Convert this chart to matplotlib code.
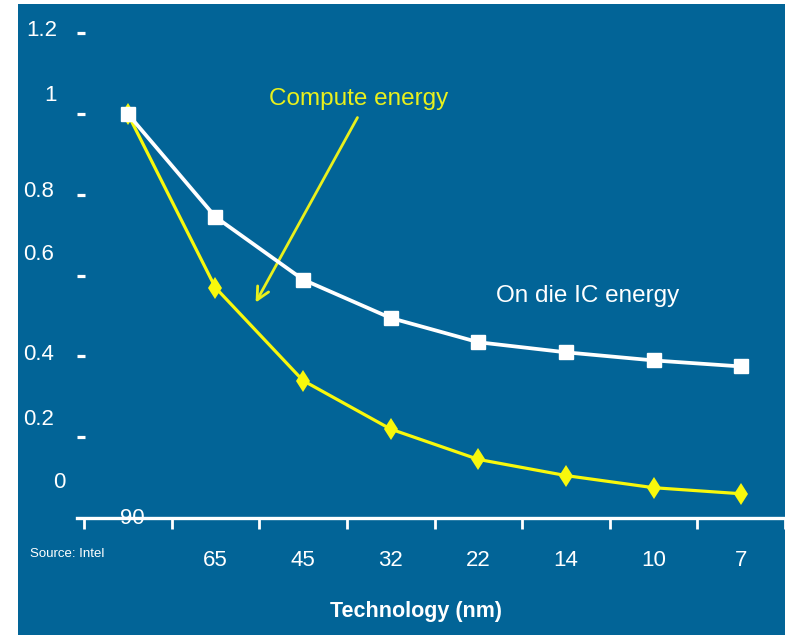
import matplotlib
matplotlib.use("Agg")
import matplotlib.pyplot as plt
import matplotlib.transforms as mtransforms
from matplotlib.patches import Rectangle

# Technology nodes (nm) and normalised energy per node
nodes = ["90", "65", "45", "32", "22", "14", "10", "7"]
ic_energy = [1.0, 0.745, 0.59, 0.495, 0.435, 0.41, 0.39, 0.375]
compute_energy = [1.0, 0.57, 0.34, 0.22, 0.145, 0.105, 0.075, 0.06]
y_ticks = [0.2, 0.4, 0.6, 0.8, 1.0, 1.2]
y_labels = ["0.2", "0.4", "0.6", "0.8", "1", "1.2"]

BLUE = "#026497"
YELLOW = "#f8f80c"
TEXT_YELLOW = "#e9f01c"
FONT = ["Liberation Sans", "DejaVu Sans"]

plt.rcParams["font.family"] = FONT

W, H = 785, 635
fig = plt.figure(figsize=(W / 100, H / 100), dpi=100, facecolor="white")

# slide background panel
fig.patches.append(Rectangle((18 / W, 0), 1 - 18 / W, 1 - 4 / H,
                             transform=fig.transFigure, facecolor=BLUE,
                             edgecolor="none", zorder=-5))

ax = fig.add_axes([77 / W, 117 / H, (W - 77) / W, (518 - 4) / H])
ax.set_facecolor("none")
ax.set_zorder(2)

x = list(range(len(nodes)))
ax.plot(x, compute_energy, color=YELLOW, lw=2.3, marker="d", ms=11.5, mew=0,
        mfc=YELLOW, zorder=3)
ax.plot(x, ic_energy, color="white", lw=2.7, marker="s", ms=10.5,
        mec="white", mfc="white", zorder=4)

ax.set_xlim(-0.58, 7.466)
ax.set_ylim(0, 1.272)

for s in ["left", "right", "top"]:
    ax.spines[s].set_visible(False)
ax.spines["bottom"].set_color("white")
ax.spines["bottom"].set_linewidth(2.4)

# y axis: short dashes with offset labels
ax.set_yticks(y_ticks)
ax.set_yticklabels([""] * len(y_ticks))
ax.tick_params(axis="y", direction="in", length=5.8, width=2.3, color="white")
label_shift = {"0.2": 18, "0.4": 2, "0.6": 21, "0.8": 3, "1": 18, "1.2": 3}
label_right = {"0.2": 54, "0.4": 54, "0.6": 54, "0.8": 54, "1": 57, "1.2": 57}
trans_y = mtransforms.blended_transform_factory(fig.transFigure, ax.transData)
for v, lab in zip(y_ticks, y_labels):
    t = trans_y + mtransforms.ScaledTranslation(0, label_shift[lab] / 100, fig.dpi_scale_trans)
    ax.text(label_right[lab] / W, v, lab, transform=t, ha="right", va="center",
            color="white", fontsize=16, clip_on=False)
t0 = trans_y + mtransforms.ScaledTranslation(0, 36 / 100, fig.dpi_scale_trans)
ax.text(66 / W, 0, "0", transform=t0, ha="right", va="center",
        color="white", fontsize=16, clip_on=False)

# x axis: labels under each node, ticks between nodes
ax.set_xticks(x[1:])
ax.set_xticklabels(nodes[1:])
ax.tick_params(axis="x", length=0, pad=23, labelsize=16, labelcolor="white")
ax.set_xticks([i - 0.5 for i in range(len(nodes) + 1)], minor=True)
ax.tick_params(axis="x", which="minor", direction="out", length=8, width=2,
               color="white")
t90 = ax.transData + mtransforms.ScaledTranslation(4 / 100, 0, fig.dpi_scale_trans)
ax.text(0, 0, nodes[0], transform=t90, ha="center", va="center",
        color="white", fontsize=16, clip_on=False)

ax.set_xlabel("Technology (nm)", color="white", fontsize=15.5, fontweight="bold")
ax.xaxis.set_label_coords(0.479, -0.162)

fig.text(30 / W, 1 - 554 / H, "Source: Intel", color="white", fontsize=9.5,
         ha="left", va="center")

# series annotations
ax.annotate("", xy=(1.443, 0.527), xytext=(2.636, 0.997),
            arrowprops=dict(arrowstyle="->,head_length=0.9,head_width=0.45",
                            color=TEXT_YELLOW, lw=2.0))
ax.text(2.635, 1.037, "Compute energy", color=TEXT_YELLOW, fontsize=17.5,
        ha="center", va="center")
ax.text(5.25, 0.55, "On die IC energy", color="white", fontsize=17.5,
        ha="center", va="center")

fig.savefig("out.png", dpi=100, facecolor="white")
